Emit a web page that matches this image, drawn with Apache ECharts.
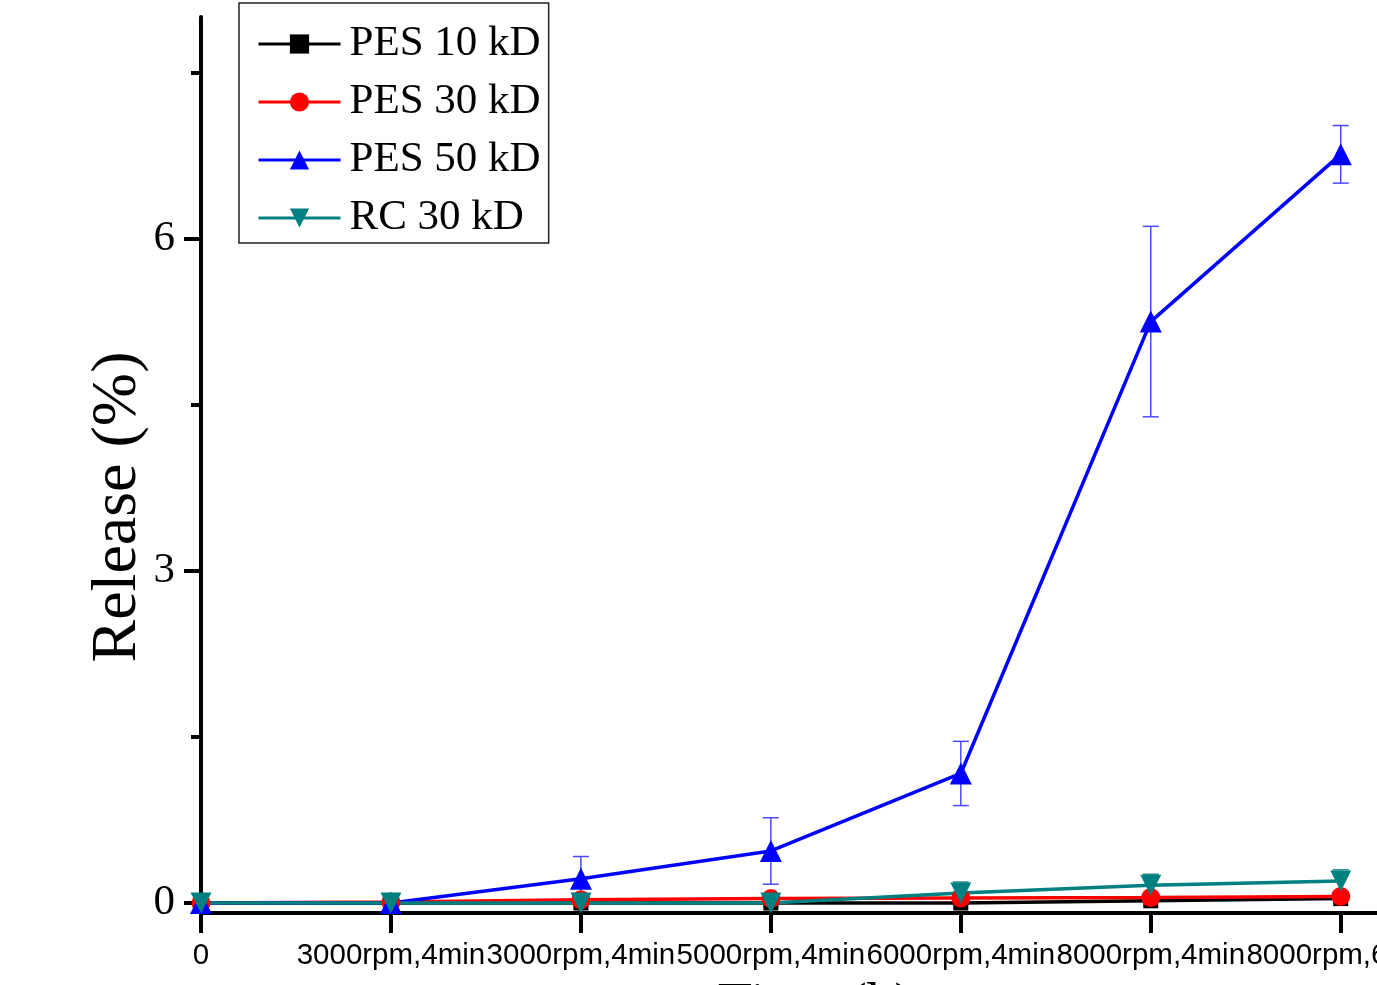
<!DOCTYPE html>
<html>
<head>
<meta charset="utf-8">
<script src="https://cdn.jsdelivr.net/npm/echarts@6/dist/echarts.min.js"></script>
<style>
  html, body { margin: 0; padding: 0; background: #fff; overflow: hidden; }
  #chart { width: 1500px; height: 1060px; }
</style>
</head>
<body>
<div id="chart"></div>
<script>
// x categories (tick labels)
const categories = ['0', '3000rpm,4min', '3000rpm,4min', '5000rpm,4min', '6000rpm,4min', '8000rpm,4min', '8000rpm,6min']

// release (%)
const pes10 = [0, 0, 0, 0, 0, 0.02, 0.04]
const pes30 = [0, 0.01, 0.03, 0.04, 0.045, 0.05, 0.06]
const pes50 = [0, 0, 0.22, 0.47, 1.17, 5.25, 6.76]
const rc30 = [0, 0, 0, 0, 0.09, 0.16, 0.2]

// error bars (+/-)
const pes30Err = [0, 0.03, 0.03, 0.03, 0.03, 0.03, 0.03]
const pes50Err = [0, 0, 0.2, 0.3, 0.29, 0.86, 0.26]
const rc30Err = [0, 0.03, 0.03, 0.03, 0.1, 0.1, 0.1]

const yTicks = [0, 3, 6]
const yMinorTicks = [1.5, 4.5, 7.5]

const serif = '"Liberation Serif", "Times New Roman", serif'
const sans = '"Liberation Sans", Arial, sans-serif'

const toPoints = (vals) => vals.map((v, i) => [i, v])
const toErr = (vals, err) => vals.map((v, i) => [i, v - err[i], v + err[i]])

const errorBar = (name, vals, err, color, width) => ({
  name: name,
  type: 'custom',
  z: 1,
  silent: true,
  renderItem: (params, api) => {
    const x = api.value(0)
    const lo = api.coord([x, api.value(1)])
    const hi = api.coord([x, api.value(2)])
    const cap = 8
    const style = { stroke: color, lineWidth: width }
    return {
      type: 'group',
      children: [
        { type: 'line', shape: { x1: lo[0], y1: lo[1], x2: hi[0], y2: hi[1] }, style },
        { type: 'line', shape: { x1: lo[0] - cap, y1: lo[1], x2: lo[0] + cap, y2: lo[1] }, style },
        { type: 'line', shape: { x1: hi[0] - cap, y1: hi[1], x2: hi[0] + cap, y2: hi[1] }, style }
      ]
    }
  },
  encode: { x: 0, y: [1, 2] },
  data: toErr(vals, err)
})

const lineSeries = (name, vals, color, symbol, size) => ({
  name: name,
  type: 'line',
  z: 3,
  data: toPoints(vals),
  symbol: symbol,
  symbolSize: size,
  showAllSymbol: true,
  clip: false,
  itemStyle: { color: color },
  lineStyle: { color: color, width: 3.5 }
})

const chart = echarts.init(document.getElementById('chart'))

const option = {
  animation: false,
  backgroundColor: '#fff',
  grid: { left: 201, top: 17, right: 70, bottom: 147 },
  legend: {
    left: 239,
    top: 3,
    orient: 'vertical',
    data: ['PES 10 kD', 'PES 30 kD', 'PES 50 kD', 'RC 30 kD'],
    backgroundColor: '#fff',
    borderColor: '#222',
    borderWidth: 1.5,
    borderRadius: 0,
    padding: [18, 8, 2, 18],
    itemWidth: 82,
    itemHeight: 24,
    itemGap: 12,
    lineStyle: { width: 3 },
    textStyle: { fontFamily: serif, fontSize: 43, color: '#000', lineHeight: 46, padding: [0, 0, 0, 4] }
  },
  xAxis: {
    type: 'value',
    min: 0,
    max: 6.47,
    name: 'Time (h)',
    nameLocation: 'middle',
    nameGap: 66,
    nameMoveOverlap: false,
    nameTextStyle: { fontFamily: serif, fontSize: 56, color: '#000' },
    splitLine: { show: false },
    axisLine: { show: true, onZero: false, lineStyle: { color: '#000', width: 4 } },
    axisTick: { show: true, customValues: [0, 1, 2, 3, 4, 5, 6], length: 20, lineStyle: { color: '#000', width: 4 } },
    axisLabel: {
      customValues: [0, 1, 2, 3, 4, 5, 6],
      formatter: (v) => categories[Math.round(v)],
      showMinLabel: true,
      showMaxLabel: true,
      hideOverlap: false,
      fontFamily: sans,
      fontSize: 29.5,
      color: '#000',
      margin: 28
    }
  },
  yAxis: [
    {
      type: 'value',
      min: -0.09,
      max: 8,
      name: 'Release (%)',
      nameLocation: 'middle',
      nameRotate: 90,
      nameGap: 51,
      nameMoveOverlap: false,
      nameTextStyle: { fontFamily: serif, fontSize: 64, color: '#000', padding: [0, 84, 0, 0] },
      splitLine: { show: false },
      axisLine: { show: true, onZero: false, lineStyle: { color: '#000', width: 4 } },
      axisTick: { show: true, customValues: yTicks, length: 17, lineStyle: { color: '#000', width: 4 } },
      axisLabel: {
        customValues: yTicks,
        fontFamily: serif,
        fontSize: 43,
        color: '#000',
        margin: 26
      }
    },
    {
      type: 'value',
      min: -0.09,
      max: 8,
      position: 'left',
      splitLine: { show: false },
      axisLine: { show: false, onZero: false },
      axisTick: { show: true, customValues: yMinorTicks, length: 10, lineStyle: { color: '#000', width: 4 } },
      axisLabel: { show: false }
    }
  ],
  series: [
    errorBar('err30', pes30, pes30Err, '#7070ff', 1.5),
    errorBar('err50', pes50, pes50Err, '#4a4aff', 1.5),
    errorBar('errRC', rc30, rc30Err, '#2f8f8a', 1.5),
    lineSeries('PES 10 kD', pes10, '#000000', 'rect', 15),
    lineSeries('PES 30 kD', pes30, '#ff0000', 'circle', 19),
    lineSeries('PES 50 kD', pes50, '#0000ff', 'triangle', 22),
    lineSeries('RC 30 kD', rc30, '#008080', 'path://M0,0 L10,0 L5,10 Z', 21)
  ]
}

chart.setOption(option)
</script>
</body>
</html>
